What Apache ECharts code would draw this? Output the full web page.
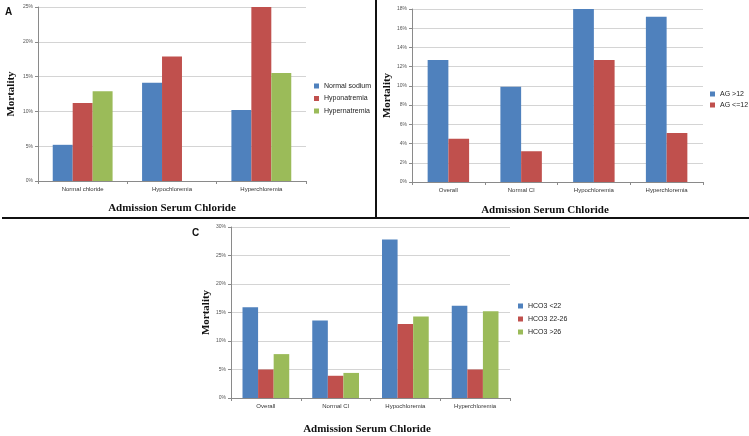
<!DOCTYPE html>
<html>
<head>
<meta charset="utf-8">
<script src="https://cdn.jsdelivr.net/npm/echarts@6/dist/echarts.min.js"></script>
<style>
html,body{margin:0;padding:0;background:#fff;}
#chart{width:749px;height:436px;}
</style>
</head>
<body>
<div id="chart"></div>
<script>
// Panel A
var categoriesA = ['Normal chloride', 'Hypochloremia', 'Hyperchloremia'];
var normalSodium = [5.2, 14.1, 10.2];
var hyponatremia = [11.2, 17.9, 25.0];
var hypernatremia = [12.9, null, 15.5];
var ticksA = [0, 5, 10, 15, 20, 25];

// Panel B
var categoriesB = ['Overall', 'Normal Cl', 'Hypochloremia', 'Hyperchloremia'];
var agHigh = [12.7, 9.9, 18.0, 17.2];
var agLow = [4.5, 3.2, 12.7, 5.1];
var ticksB = [0, 2, 4, 6, 8, 10, 12, 14, 16, 18];

// Panel C
var categoriesC = ['Overall', 'Normal Cl', 'Hypochloremia', 'Hyperchloremia'];
var hco3Low = [15.9, 13.6, 27.8, 16.2];
var hco3Mid = [5.0, 3.9, 13.0, 5.0];
var hco3High = [7.7, 4.4, 14.3, 15.2];
var ticksC = [0, 5, 10, 15, 20, 25, 30];

var BLUE = '#4F81BD', RED = '#C0504D', GREEN = '#9BBB59';
var smallFont = 'Liberation Sans';
var serif = 'Liberation Serif';

function xAx(idx, cats, gap, pad) {
  return {
    type: 'category', gridIndex: idx, data: cats,
    axisLine: {lineStyle: {color: '#8a8a8a', width: 1}},
    axisTick: {show: true, length: 3, lineStyle: {color: '#8a8a8a'}},
    axisLabel: {fontSize: 6, color: '#333', fontFamily: smallFont, margin: 5},
    name: 'Admission Serum Chloride', nameLocation: 'middle', nameGap: gap,
    nameTextStyle: {fontFamily: serif, fontWeight: 'bold', fontSize: 11, color: '#111', padding: pad || 0}
  };
}
function yAx(idx, ticks, gap) {
  return {
    type: 'value', gridIndex: idx, min: ticks[0], max: ticks[ticks.length - 1],
    interval: ticks[1] - ticks[0],
    axisLine: {show: true, lineStyle: {color: '#8a8a8a', width: 1}},
    axisTick: {show: true, length: 3, lineStyle: {color: '#8a8a8a'}},
    axisLabel: {fontSize: 5, color: '#555', fontFamily: smallFont, margin: 5, formatter: '{value}%'},
    splitLine: {show: true, lineStyle: {color: '#d4d4d4', width: 1}},
    name: 'Mortality', nameLocation: 'middle', nameGap: gap,
    nameTextStyle: {fontFamily: serif, fontWeight: 'bold', fontSize: 11, color: '#111'}
  };
}
function bar(name, data, idx, color, catGap) {
  return {
    type: 'bar', name: name, data: data, xAxisIndex: idx, yAxisIndex: idx,
    itemStyle: {color: color}, barGap: '0%', barCategoryGap: catGap,
    emphasis: {disabled: true}, animation: false
  };
}
function leg(names, left, top, gap) {
  return {
    data: names, left: left, top: top, orient: 'vertical', padding: 0,
    itemWidth: 5, itemHeight: 5, itemGap: gap, icon: 'rect',
    textStyle: {fontSize: 7, fontFamily: smallFont, color: '#222', lineHeight: 8},
    selectedMode: false
  };
}

var chart = echarts.init(document.getElementById('chart'), null, {renderer: 'canvas'});
chart.setOption({
  animation: false,
  backgroundColor: '#fff',
  grid: [
    {left: 38, top: 7, width: 268, height: 174},
    {left: 412, top: 9, width: 291, height: 173},
    {left: 231, top: 227, width: 279, height: 174}
  ],
  xAxis: [xAx(0, categoriesA, 22), xAx(1, categoriesB, 23, [0, 25, 0, 0]), xAx(2, categoriesC, 26, [0, 7, 0, 0])],
  yAxis: [yAx(0, ticksA, 21), yAx(1, ticksB, 18), yAx(2, ticksC, 18)],
  legend: [
    leg(['Normal sodium', 'Hyponatremia', 'Hypernatremia'], 314, 82, 4.5),
    leg(['AG >12', 'AG <=12'], 710, 90, 3),
    leg(['HCO3 <22', 'HCO3 22-26', 'HCO3 >26'], 518, 302, 5)
  ],
  series: [
    bar('Normal sodium', normalSodium, 0, BLUE, '33%'),
    bar('Hyponatremia', hyponatremia, 0, RED, '33%'),
    bar('Hypernatremia', hypernatremia, 0, GREEN, '33%'),
    bar('AG >12', agHigh, 1, BLUE, '43%'),
    bar('AG <=12', agLow, 1, RED, '43%'),
    bar('HCO3 <22', hco3Low, 2, BLUE, '33%'),
    bar('HCO3 22-26', hco3Mid, 2, RED, '33%'),
    bar('HCO3 >26', hco3High, 2, GREEN, '33%')
  ],
  graphic: [
    {type: 'line', shape: {x1: 376, y1: 0, x2: 376, y2: 218}, style: {stroke: '#111', lineWidth: 2}},
    {type: 'line', shape: {x1: 2, y1: 218, x2: 749, y2: 218}, style: {stroke: '#111', lineWidth: 2}},
    {type: 'text', left: 5, top: 7, style: {text: 'A', font: 'bold 10px "Liberation Sans"', fill: '#111'}},
    {type: 'text', left: 192, top: 228, style: {text: 'C', font: 'bold 10px "Liberation Sans"', fill: '#111'}}
  ]
});
</script>
</body>
</html>
